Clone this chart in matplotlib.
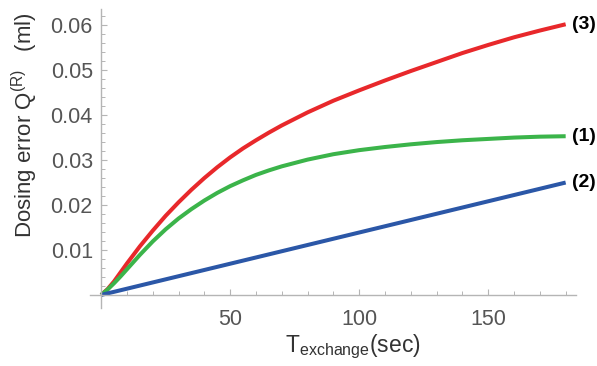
import matplotlib.pyplot as plt
import numpy as np

plt.rcParams['font.family'] = ['Liberation Sans', 'DejaVu Sans']
plt.rcParams['mathtext.fontset'] = 'custom'
plt.rcParams['mathtext.rm'] = 'Liberation Sans'
plt.rcParams['mathtext.default'] = 'regular'

# values
t = [0, 2.5, 5, 7.5, 10, 15, 20, 25, 30, 35, 40, 45, 50, 55, 60, 65, 70,
     80, 90, 100, 110, 120, 130, 140, 150, 160, 170, 180]
q3 = [0, 0.0013, 0.0030, 0.0050, 0.0070, 0.0108, 0.0143, 0.0176, 0.0206, 0.0234,
      0.0260, 0.0284, 0.0306, 0.0326, 0.0344, 0.0361, 0.0377,
      0.0406, 0.0432, 0.0455, 0.0477, 0.0498, 0.0518, 0.0538, 0.0556, 0.0573, 0.0588, 0.0602]
q1 = [0, 0.0012, 0.0026, 0.0041, 0.0057, 0.0089, 0.0119, 0.0146, 0.0170, 0.0191,
      0.0210, 0.0227, 0.0242, 0.0255, 0.0267, 0.0277, 0.0286,
      0.0301, 0.0313, 0.0322, 0.0329, 0.0335, 0.0340, 0.0344, 0.0347, 0.0350, 0.0352, 0.0353]
t2 = [0, 180]
q2 = [0, 0.0250]

labels = ['(3)', '(1)', '(2)']
colors = ['#E8282B', '#3BB44A', '#2B57A7']

fig = plt.figure(figsize=(5.97, 3.66), dpi=100)
ax = fig.add_axes([0.1508, 0.1585, 0.814, 0.817])

series = [(t, q3), (t, q1), (t2, q2)]
for (x, y), c, lab in zip(series, colors, labels):
    ax.plot(x, y, color=c, lw=2.9, solid_capstyle='butt', solid_joinstyle='round',
            clip_on=False)
    ax.text(x[-1] + 2.3, y[-1], lab, fontsize=14, fontweight='bold',
            va='center', ha='left', clip_on=False)

ax.set_xlim(-4.3, 184)
ax.set_ylim(-0.0029, 0.0636)

for s in ['top', 'right']:
    ax.spines[s].set_visible(False)
ax.spines['left'].set_position(('data', 0))
ax.spines['bottom'].set_position(('data', 0))
for s in ['left', 'bottom']:
    ax.spines[s].set_color('#b5b5b5')
    ax.spines[s].set_linewidth(1.0)

ax.set_xticks([50, 100, 150])
ax.set_xticks([x for x in range(10, 181, 10) if x % 50], minor=True)
ax.set_yticks([0.01, 0.02, 0.03, 0.04, 0.05, 0.06])
ax.set_yticklabels(['0.01', '0.02', '0.03', '0.04', '0.05', '0.06'])
ax.set_yticks([v / 1000 for v in range(2, 64, 2) if v % 10], minor=True)

ax.tick_params(which='both', direction='in', color='#b5b5b5', labelcolor='#555555',
               labelsize=15.5)
ax.tick_params(which='major', length=4.5, width=0.8)
ax.tick_params(which='minor', length=2.8, width=0.7)
ax.tick_params(axis='x', pad=10)
ax.tick_params(axis='y', pad=6)

fig.text(25 / 597, 1 - 125 / 366, 'Dosing error Q$^{(R)}$   (ml)', rotation=90,
         ha='center', va='center', fontsize=16, color='#333333')
fig.text(353 / 597, 1 - 347 / 366, 'T$_{exchange}$(sec)', ha='center', va='center',
         fontsize=16.5, color='#333333')

fig.savefig('out.png', dpi=100)
